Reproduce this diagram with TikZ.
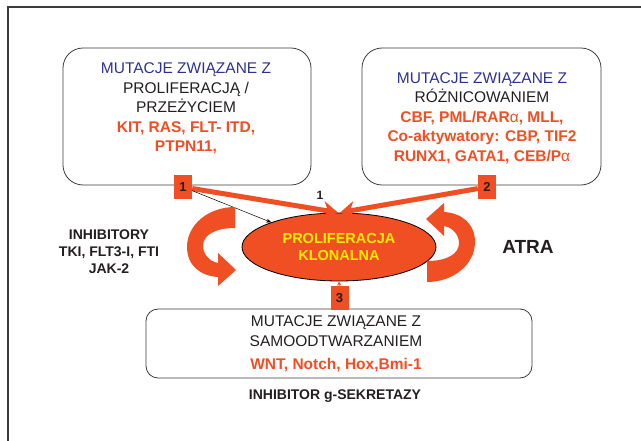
\documentclass[tikz,border=0pt]{standalone}
\usepackage{fontspec}
\setmainfont{Liberation Sans}
\usetikzlibrary{shapes.geometric,arrows.meta}
\definecolor{pomar}{RGB}{240,78,35}
\definecolor{granat}{RGB}{46,49,146}
\definecolor{czarny}{RGB}{35,31,32}
\definecolor{zolty}{RGB}{255,237,0}
\definecolor{ramka}{RGB}{60,60,60}
\newcommand{\rozmiar}[2]{\fontsize{#1}{#2}\selectfont}
\newcommand{\zawrotka}{%
	\fill[pomar] (235,207) .. controls (208,207) and (187,225) .. (187,247)
		.. controls (187,265) and (200,276) .. (218,277)
		-- (218,286) -- (236,270) -- (218,253) -- (218,263)
		.. controls (208,261) and (203,253) .. (203,246)
		.. controls (203,235) and (215,228) .. (235,228) -- cycle;}
\tikzset{
	mutbox/.style={draw=ramka, line width=0.8pt, rounded corners=20pt, inner sep=0pt},
	mutext/.style={align=center, text=czarny, font=\rozmiar{15.5}{19.4}},
	numbox/.style={fill=pomar, text=czarny, minimum width=18pt, minimum height=24pt, inner sep=0pt, font=\rozmiar{13}{13}\bfseries},
	gruba/.style={pomar, line width=5pt, -{Stealth[length=15pt,width=18pt,inset=5pt]}},
	opis/.style={align=center, text=czarny, font=\rozmiar{14}{17}\bfseries}
}
\begin{document}
\begin{tikzpicture}[x=1pt,y=-1pt]
			\useasboundingbox (0,0) rectangle (641,441);
			\draw[ramka, line width=1.2pt] (8,441) -- (8,7) -- (641,7);
			\node[mutbox, minimum width=248pt, minimum height=137pt] (lbox) at (187,116.5) {};
			\node[mutbox, minimum width=239pt, minimum height=137pt] (rbox) at (481.5,116.5) {};
			\node[mutbox, rounded corners=12pt, minimum width=386pt, minimum height=69pt] (bbox) at (339,343.5) {};
			\node[mutext] (ltxt) at (186,108.5) {\textcolor{granat}{MUTACJE ZWIĄZANE Z}\\PROLIFERACJĄ /\\PRZEŻYCIEM\\
				\textcolor{pomar}{\bfseries KIT, RAS, FLT- ITD,}\\\textcolor{pomar}{\bfseries PTPN11,}};
			\node[mutext] (rtxt) at (482,118) {\textcolor{granat}{MUTACJE ZWIĄZANE Z}\\RÓŻNICOWANIEM\\
				\textcolor{pomar}{\bfseries CBF, PML/RAR{\mdseries α}, MLL,}\\\textcolor{pomar}{\bfseries Co-aktywatory: CBP, TIF2}\\
				\textcolor{pomar}{\bfseries RUNX1, GATA1, CEB/P{\mdseries α}}};
			\node[mutext] (btxt) at (336,344) {MUTACJE ZWIĄZANE Z\\SAMOODTWARZANIEM\\[4pt]
				\textcolor{pomar}{\bfseries WNT, Notch, Hox,Bmi-1}};
			\node[ellipse, draw=black, line width=0.8pt, fill=pomar, minimum width=194pt, minimum height=68pt,
				align=center, text=zolty, font=\rozmiar{14.5}{17}\bfseries] (ell) at (339,247) {PROLIFERACJA\\KLONALNA};
			\node[numbox] (sq1) at (183,187) {1};
			\node[numbox] (sq2) at (487,187) {2};
			\node[numbox] (sq3) at (339.5,298) {3};
			\draw[gruba] (sq1) -- ([xshift=-1pt]ell.north);
			\draw[gruba] (sq2) -- ([xshift=1pt]ell.north);
			\draw[black, line width=0.5pt, -{Stealth[length=5pt,width=4pt]}] (sq1) -- (ell.160);
			\draw[pomar, line width=1pt, -{Stealth[length=4pt,width=4pt]}] (sq3) -- (ell.south);
			\node[text=czarny, font=\rozmiar{12}{12}\bfseries] (jeden) at (320,195) {1};
			\zawrotka
			\begin{scope}[rotate around={180:(331,244.5)}]
				\zawrotka
			\end{scope}
			\node[opis] (inhib) at (109,252) {INHIBITORY\\TKI, FLT3-I, FTI\\JAK-2};
			\node[text=czarny, font=\rozmiar{19}{19}\bfseries] (atra) at (528,247) {ATRA};
			\node[opis] (gsek) at (335,396) {INHIBITOR g-SEKRETAZY};
		\end{tikzpicture}
\end{document}
